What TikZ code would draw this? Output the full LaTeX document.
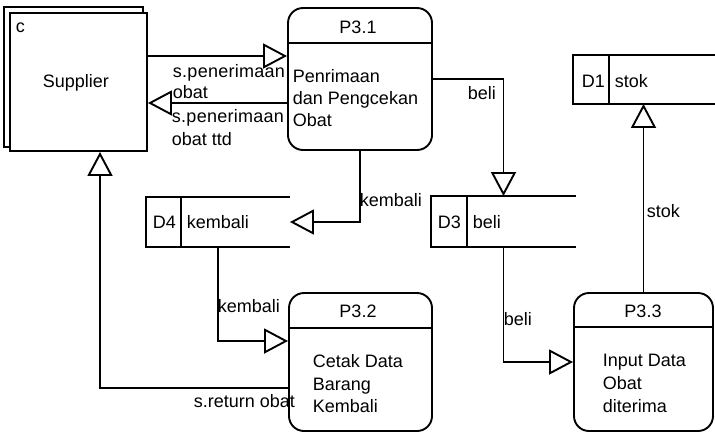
\documentclass[tikz,border=0pt]{standalone}
\usepackage{fontspec}
\setmainfont{Liberation Sans}
\usetikzlibrary{arrows.meta}
\begin{document}
\begin{tikzpicture}[x=1pt,y=-1pt,line width=1.9pt,
  txt/.style={inner sep=0pt,anchor=base west,font=\fontsize{18}{21}\selectfont},
  ctxt/.style={inner sep=0pt,anchor=base,font=\fontsize{18}{21}\selectfont},
  wtxt/.style={txt,font=\fontsize{18}{21}\selectfont\addfontfeature{LetterSpace=1.5}},
  procbox/.style={draw,rounded corners=15pt,inner sep=0pt,minimum width=#1},
  storebox/.style={inner sep=0pt,minimum width=#1},
  flow/.style={-{Triangle[open,length=24pt,width=25pt]}}]
\useasboundingbox (0,0) rectangle (715,432);

% Supplier (external entity, doubled square)
\node[draw,fill=white,inner sep=0pt,minimum width=137pt,minimum height=138pt] (sup) at (78.5,82) {};
\draw[fill=white] ([shift={(-5pt,5pt)}]sup.north west) rectangle ([shift={(-5pt,5pt)}]sup.south east);
\node[draw,fill=white,inner sep=0pt,minimum width=137pt,minimum height=138pt] at (78.5,82) {};
\node[txt] (tc) at (15,32) {c};
\node[txt] (tsup) at (42,87) {Supplier};

% Processes
\node[procbox=144pt,minimum height=142pt] (p31) at (360,79) {};
\draw ([yshift=-36pt]p31.north west) -- ([yshift=-36pt]p31.north east);
\node[ctxt] (t31) at (358,33) {P3.1};
\node[txt] (t31a) at (292,82) {Penrimaan};
\node[txt] (t31b) at (292,104) {dan Pengcekan};
\node[txt] (t31c) at (292,126) {Obat};

\node[procbox=143pt,minimum height=138pt] (p32) at (360.5,362) {};
\draw ([yshift=-36pt]p32.north west) -- ([yshift=-36pt]p32.north east);
\node[ctxt] (t32) at (358,317) {P3.2};
\node[txt] (t32a) at (312,367) {Cetak Data};
\node[txt] (t32b) at (312,390) {Barang};
\node[txt] (t32c) at (312,412) {Kembali};

\node[procbox=139pt,minimum height=138pt] (p33) at (643.5,362) {};
\draw ([yshift=-35pt]p33.north west) -- ([yshift=-35pt]p33.north east);
\node[ctxt] (t33) at (643,317) {P3.3};
\node[txt] (t33a) at (602,366) {Input Data};
\node[txt] (t33b) at (602,389) {Obat};
\node[txt] (t33c) at (602,412) {diterima};

% Data stores (open on the right)
\node[storebox=142pt,minimum height=47pt] (d1) at (645,79.5) {};
\draw (d1.north east) -- (d1.north west) -- (d1.south west) -- (d1.south east);
\draw ([xshift=36pt]d1.north west) -- ([xshift=36pt]d1.south west);
\node[txt] (td1) at (581,87) {D1};
\node[txt] (td1b) at (614,87) {stok};

\node[storebox=143pt,minimum height=49pt] (d3) at (503.5,221.5) {};
\draw (d3.north east) -- (d3.north west) -- (d3.south west) -- (d3.south east);
\draw ([xshift=36pt]d3.north west) -- ([xshift=36pt]d3.south west);
\node[txt] (td3) at (437,228) {D3};
\node[txt] (td3b) at (472,228) {beli};

\node[storebox=142pt,minimum height=48pt] (d4) at (218,222) {};
\draw (d4.north east) -- (d4.north west) -- (d4.south west) -- (d4.south east);
\draw ([xshift=35pt]d4.north west) -- ([xshift=35pt]d4.south west);
\node[txt] (td4) at (152,228) {D4};
\node[txt] (td4b) at (186,228) {kembali};

% Flows
\draw[flow] ([yshift=26pt]sup.east) -- ([yshift=23pt]p31.west);
\node[wtxt] (l1a) at (172,77) {s.penerimaan};
\node[txt] (l1b) at (172,98) {obat};
\draw[flow] ([yshift=-24pt]p31.west) -- ([yshift=-21pt]sup.east);
\node[wtxt] (l2a) at (171,122) {s.penerimaan};
\node[txt] (l2b) at (171,145) {obat ttd};

\draw[flow] (p31.east) -| (d3.north);
\node[txt] (l3) at (467,99) {beli};

\draw[flow] (p31.south) |- (d4.east);
\node[txt] (l4) at (359,206) {kembali};

\draw[flow] (d4.south) |- ([yshift=21pt]p32.west);
\node[txt] (l5) at (217,312) {kembali};

\draw[flow] ([yshift=-26pt]p32.west) -| ([xshift=21.5pt]sup.south);
\node[txt] (l6) at (193,407) {s.return obat};

\draw[flow] (d3.south) |- (p33.west);
\node[txt] (l7) at (503,325) {beli};

\draw[flow] (p33.north) -- (p33.north |- d1.south);
\node[txt] (l8) at (646,217) {stok};
\end{tikzpicture}
\end{document}
